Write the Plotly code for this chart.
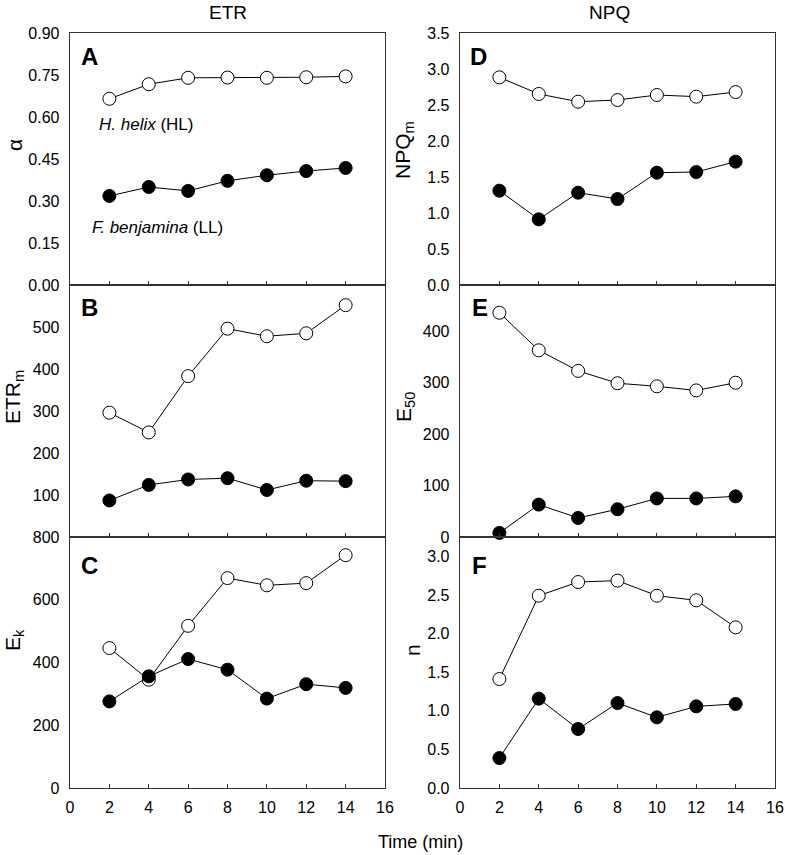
import plotly.graph_objects as go

time = [2, 4, 6, 8, 10, 12, 14]

# Panel A: alpha
alpha_hl = [0.665, 0.717, 0.740, 0.741, 0.740, 0.742, 0.745]
alpha_ll = [0.318, 0.350, 0.336, 0.372, 0.392, 0.407, 0.418]
# Panel B: ETRm
etrm_hl = [296, 249, 383, 496, 478, 485, 552]
etrm_ll = [87, 124, 137, 140, 112, 134, 133]
# Panel C: Ek
ek_hl = [446, 345, 517, 669, 646, 653, 742]
ek_ll = [276, 356, 411, 377, 285, 331, 319]
# Panel D: NPQm
npqm_hl = [2.884, 2.653, 2.546, 2.569, 2.639, 2.616, 2.680]
npqm_ll = [1.310, 0.912, 1.282, 1.194, 1.560, 1.569, 1.713]
# Panel E: E50
e50_hl = [436, 363, 323, 299, 293, 285, 300]
e50_ll = [8, 63, 37, 54, 75, 75, 79]
# Panel F: n
n_hl = [1.411, 2.490, 2.667, 2.685, 2.490, 2.430, 2.080]
n_ll = [0.388, 1.157, 0.764, 1.100, 0.915, 1.057, 1.088]

x_ticks = [0, 2, 4, 6, 8, 10, 12, 14, 16]
yticks_A = [0.0, 0.15, 0.30, 0.45, 0.60, 0.75, 0.90]
ylabels_A = ["0.00", "0.15", "0.30", "0.45", "0.60", "0.75", "0.90"]
yticks_B = [100, 200, 300, 400, 500]
yticks_C = [0, 200, 400, 600, 800]
yticks_D = [0.0, 0.5, 1.0, 1.5, 2.0, 2.5, 3.0, 3.5]
yticks_E = [0, 100, 200, 300, 400]
yticks_F = [0.0, 0.5, 1.0, 1.5, 2.0, 2.5, 3.0]

FONT = "Liberation Sans, Arial, sans-serif"
W, H = 785, 855

def px_x(p):
    return p / W

def px_y(p):
    return 1 - p / H

left_dom = [px_x(70), px_x(385)]
right_dom = [px_x(460), px_x(775)]
row_doms = [[px_y(285), px_y(33)], [px_y(537), px_y(285)], [px_y(788), px_y(537)]]

panels = [
    # (hl, ll, col, row, yrange, tickvals, ticktext)
    (alpha_hl, alpha_ll, 0, 0, [0, 0.9], yticks_A, ylabels_A),
    (etrm_hl, etrm_ll, 0, 1, [0, 600], yticks_B, [str(v) for v in yticks_B]),
    (ek_hl, ek_ll, 0, 2, [0, 800], yticks_C, [str(v) for v in yticks_C]),
    (npqm_hl, npqm_ll, 1, 0, [0, 3.5], yticks_D, ["%.1f" % v for v in yticks_D]),
    (e50_hl, e50_ll, 1, 1, [0, 490], yticks_E, [str(v) for v in yticks_E]),
    (n_hl, n_ll, 1, 2, [0, 3.25], yticks_F, ["%.1f" % v for v in yticks_F]),
]

fig = go.Figure()
layout = {}
for i, (hl, ll, col, row, yr, tv, tt) in enumerate(panels):
    idx = i + 1
    xa = "x" if idx == 1 else "x%d" % idx
    ya = "y" if idx == 1 else "y%d" % idx
    fig.add_trace(go.Scatter(
        x=time, y=hl, xaxis=xa, yaxis=ya, mode="lines+markers",
        line=dict(color="black", width=1),
        marker=dict(symbol="circle", size=13, color="white",
                    line=dict(color="black", width=1)),
        showlegend=False, cliponaxis=False))
    fig.add_trace(go.Scatter(
        x=time, y=ll, xaxis=xa, yaxis=ya, mode="lines+markers",
        line=dict(color="black", width=1),
        marker=dict(symbol="circle", size=13, color="black",
                    line=dict(color="black", width=1)),
        showlegend=False, cliponaxis=False))
    xkey = "xaxis" if idx == 1 else "xaxis%d" % idx
    ykey = "yaxis" if idx == 1 else "yaxis%d" % idx
    layout[xkey] = dict(
        domain=left_dom if col == 0 else right_dom,
        anchor=ya, range=[0, 16], tickmode="array", tickvals=x_ticks,
        ticktext=[str(v) for v in x_ticks],
        showticklabels=(row == 2), ticks="inside", ticklen=4, tickwidth=1,
        tickcolor="#333", showline=True, linecolor="#333", linewidth=1.3,
        mirror=True, showgrid=False, zeroline=False, automargin=False,
        tickfont=dict(family=FONT, size=16, color="black"),
        ticklabelstandoff=4)
    layout[ykey] = dict(
        domain=row_doms[row], anchor=xa, range=yr, tickmode="array",
        tickvals=tv, ticktext=tt, ticks="", showline=True, linecolor="#333",
        linewidth=1.3, mirror=True, showgrid=False, zeroline=False,
        automargin=False,
        tickfont=dict(family=FONT, size=16, color="black"),
        ticklabelstandoff=6)

fig.update_layout(**layout)

ann = []
def add_text(text, x, y, size, xanchor="center", angle=0, bold=False):
    ann.append(dict(text=("<b>%s</b>" % text) if bold else text,
                    x=px_x(x), y=px_y(y), xref="paper", yref="paper",
                    xanchor=xanchor, yanchor="middle", showarrow=False,
                    textangle=angle,
                    font=dict(family=FONT, size=size, color="black")))

add_text("ETR", 228, 12, 19)
add_text("NPQ", 609, 12, 19)
add_text("Time (min)", 420, 842, 18)

add_text("α", 15, 145, 21, angle=-90)
add_text("ETR<sub>m</sub>", 14, 397, 21, angle=-90)
add_text("E<sub>k</sub>", 14, 640, 21, angle=-90)
add_text("NPQ<sub>m</sub>", 404, 150, 21, angle=-90)
add_text("E<sub>50</sub>", 405, 407, 21, angle=-90)
add_text("n", 412, 650, 21, angle=-90)

for letter, x, y in [("A", 79, 56), ("B", 79, 308), ("C", 79, 565),
                     ("D", 468, 56), ("E", 470, 308), ("F", 470, 565)]:
    add_text(letter, x, y, 24, xanchor="left", bold=True)

add_text("<i>H. helix</i> (HL)", 97, 125, 17, xanchor="left")
add_text("<i>F. benjamina</i> (LL)", 90, 228, 17, xanchor="left")

fig.update_layout(
    width=W, height=H, margin=dict(l=0, r=0, t=0, b=0, autoexpand=False),
    paper_bgcolor="white", plot_bgcolor="white", hovermode=False,
    annotations=ann, font=dict(family=FONT, color="black"))

fig.write_html(
    "out.html",
    config={"displayModeBar": False, "staticPlot": True},
    post_script="document.body.style.margin='0';"
                "document.body.style.padding='0';"
                "document.body.style.overflow='hidden';"
                "document.documentElement.style.overflow='hidden';")
